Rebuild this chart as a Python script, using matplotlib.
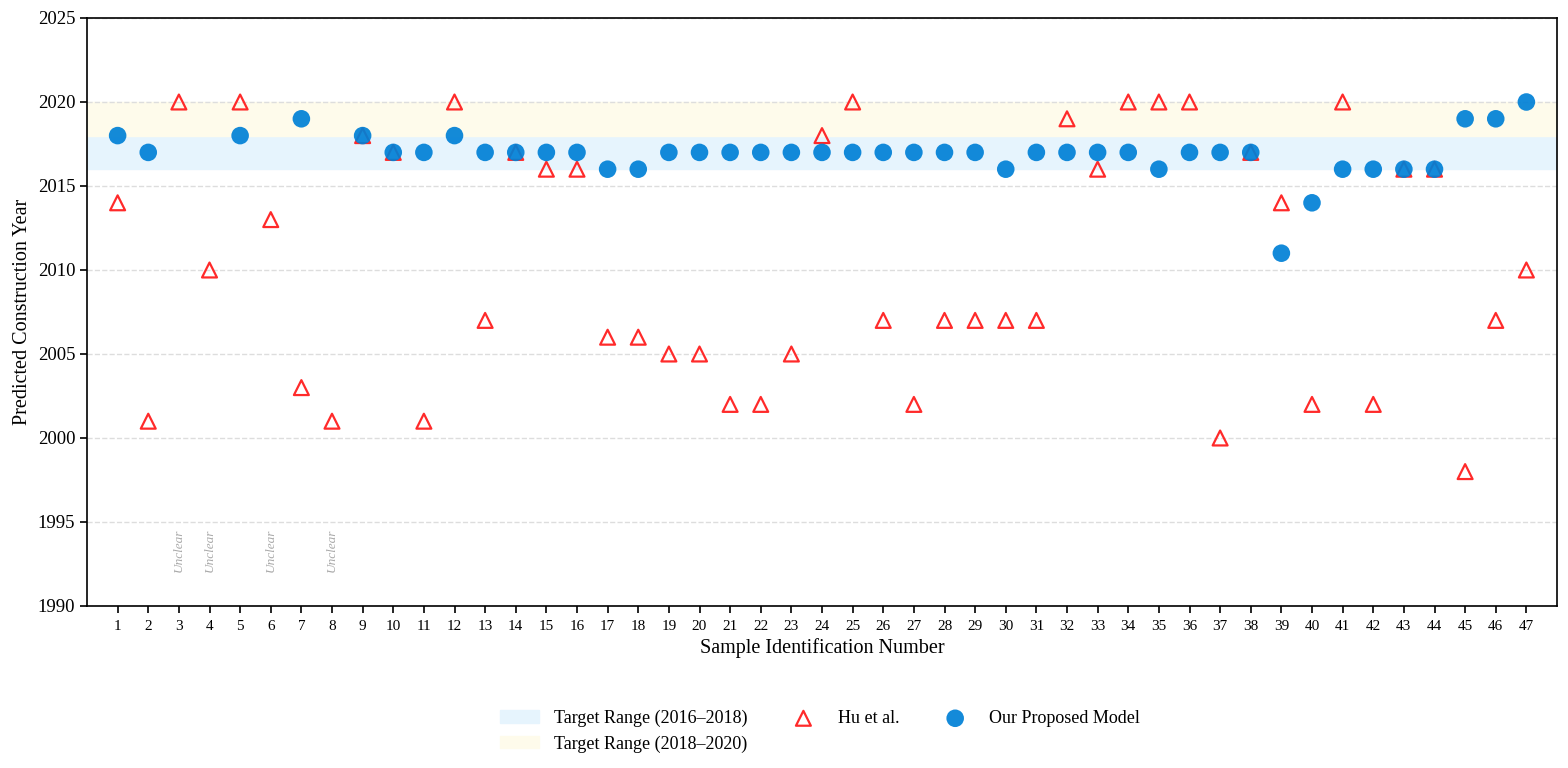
import matplotlib.pyplot as plt
import numpy as np

plt.rcParams['font.family'] = ['Liberation Serif', 'DejaVu Serif']

samples = np.arange(1, 48)

# Hu et al. predictions
hu_years = [2014, 2001, 2020, 2010, 2020, 2013, 2003, 2001, 2018, 2017,
            2001, 2020, 2007, 2017, 2016, 2016, 2006, 2006, 2005, 2005,
            2002, 2002, 2005, 2018, 2020, 2007, 2002, 2007, 2007, 2007,
            2007, 2019, 2016, 2020, 2020, 2020, 2000, 2017, 2014, 2002,
            2020, 2002, 2016, 2016, 1998, 2007, 2010]

# our model (nan = unclear)
our_years = [2018, 2017, np.nan, np.nan, 2018, np.nan, 2019, np.nan, 2018, 2017,
             2017, 2018, 2017, 2017, 2017, 2017, 2016, 2016, 2017, 2017,
             2017, 2017, 2017, 2017, 2017, 2017, 2017, 2017, 2017, 2016,
             2017, 2017, 2017, 2017, 2016, 2017, 2017, 2017, 2011, 2014,
             2016, 2016, 2016, 2016, 2019, 2019, 2020]

unclear_samples = [3, 4, 6, 8]

fig = plt.figure(figsize=(15.68, 7.68), dpi=100)
ax = fig.add_axes([87 / 1568, 1 - 606 / 768, (1557 - 87) / 1568, (606 - 18) / 768])

ax.axhspan(2016, 2018, color='#e6f4fd', zorder=0, label='Target Range (2016–2018)')
ax.axhspan(2018, 2020, color='#fefbeb', zorder=0, label='Target Range (2018–2020)')

ax.scatter(samples, hu_years, marker='^', s=115, facecolors='none',
           edgecolors='#ff2a2a', linewidths=1.6, zorder=3, label='Hu et al.')
ax.scatter(samples, our_years, marker='o', s=160, color='#0080d6',
           alpha=0.92, edgecolors='none', zorder=4, label='Our Proposed Model')

for s in unclear_samples:
    ax.text(s, 1992, 'Unclear', rotation=90, ha='center', va='bottom',
            fontsize=9.5, style='italic', color='#aaaaaa')

ax.set_xlim(0, 48)
ax.set_ylim(1990, 2025)
ax.set_xticks(samples)
ax.set_yticks(np.arange(1990, 2026, 5))
ax.tick_params(axis='x', labelsize=11, length=5, width=1.2, pad=5)
ax.tick_params(axis='y', labelsize=13.5, length=5, width=1.2)
ax.grid(axis='y', linestyle='--', color='#dddddd', linewidth=1, zorder=1)
ax.set_axisbelow(True)
for sp in ax.spines.values():
    sp.set_linewidth(1.2)

ax.set_xlabel('Sample Identification Number', fontsize=14.5, labelpad=4)
ax.set_ylabel('Predicted Construction Year', fontsize=14.5, labelpad=4)

handles, labels = ax.get_legend_handles_labels()
fig.legend(handles, labels, loc='center', bbox_to_anchor=(0.523, 0.048),
           ncol=3, frameon=False, fontsize=13, columnspacing=2.0,
           handlelength=2.2, handletextpad=0.8, labelspacing=0.45)

fig.savefig('out.png', dpi=100)
